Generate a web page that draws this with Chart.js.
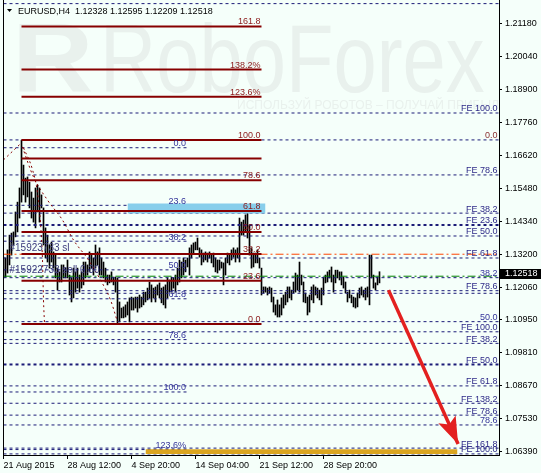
<!DOCTYPE html>
<html>
<head>
<meta charset="utf-8">
<script src="https://cdn.jsdelivr.net/npm/chart.js@4.4.0/dist/chart.umd.min.js"></script>
<style>
  html, body { margin: 0; padding: 0; background: #f5fffa; }
  #wrap { width: 541px; height: 473px; }
</style>
</head>
<body>
<div id="wrap"><canvas id="chart" width="541" height="473"></canvas></div>
<script>
// EURUSD H4 bars (one value per bar, oldest first)
const highs = [
  1.1310, 1.1307, 1.1335, 1.1386, 1.1393, 1.1397, 1.1466, 1.1500, 1.1549, 1.1714,
  1.1628, 1.1583, 1.1587, 1.1569, 1.1535, 1.1514, 1.1549, 1.1559, 1.1549, 1.1525,
  1.1480, 1.1411, 1.1386, 1.1352, 1.1362, 1.1328, 1.1317, 1.1272, 1.1259, 1.1283,
  1.1283, 1.1272, 1.1300, 1.1248, 1.1238, 1.1272, 1.1259, 1.1272, 1.1248, 1.1259,
  1.1293, 1.1293, 1.1283, 1.1328, 1.1317, 1.1307, 1.1352, 1.1328, 1.1342, 1.1307,
  1.1293, 1.1272, 1.1248, 1.1248, 1.1259, 1.1241, 1.1241, 1.1238, 1.1155, 1.1134,
  1.1138, 1.1145, 1.1155, 1.1169, 1.1172, 1.1169, 1.1172, 1.1172, 1.1179, 1.1172,
  1.1189, 1.1189, 1.1203, 1.1224, 1.1214, 1.1203, 1.1207, 1.1214, 1.1221, 1.1203,
  1.1207, 1.1214, 1.1238, 1.1231, 1.1241, 1.1238, 1.1248, 1.1272, 1.1300, 1.1293,
  1.1307, 1.1300, 1.1307, 1.1342, 1.1352, 1.1359, 1.1362, 1.1376, 1.1342, 1.1335,
  1.1324, 1.1328, 1.1324, 1.1328, 1.1317, 1.1324, 1.1307, 1.1300, 1.1300, 1.1293,
  1.1290, 1.1307, 1.1324, 1.1317, 1.1335, 1.1342, 1.1335, 1.1342, 1.1445, 1.1431,
  1.1438, 1.1456, 1.1462, 1.1421, 1.1342, 1.1324, 1.1324, 1.1335, 1.1307, 1.1272,
  1.1207, 1.1207, 1.1203, 1.1207, 1.1203, 1.1172, 1.1145, 1.1162, 1.1145, 1.1169,
  1.1179, 1.1189, 1.1207, 1.1207, 1.1196, 1.1224, 1.1255, 1.1248, 1.1293, 1.1248,
  1.1224, 1.1186, 1.1172, 1.1179, 1.1207, 1.1214, 1.1207, 1.1203, 1.1196, 1.1203,
  1.1241, 1.1248, 1.1259, 1.1265, 1.1276, 1.1248, 1.1265, 1.1265, 1.1259, 1.1259,
  1.1241, 1.1224, 1.1189, 1.1196, 1.1179, 1.1172, 1.1169, 1.1186, 1.1203, 1.1207,
  1.1196, 1.1203, 1.1207, 1.1317, 1.1317, 1.1248, 1.1221, 1.1241, 1.12595
];
const lows = [
  1.1238, 1.1241, 1.1255, 1.1283, 1.1317, 1.1352, 1.1380, 1.1397, 1.1445, 1.1500,
  1.1525, 1.1500, 1.1518, 1.1480, 1.1445, 1.1431, 1.1411, 1.1466, 1.1431, 1.1480,
  1.1352, 1.1307, 1.1293, 1.1272, 1.1293, 1.1272, 1.1238, 1.1196, 1.1224, 1.1224,
  1.1238, 1.1238, 1.1238, 1.1179, 1.1155, 1.1169, 1.1189, 1.1203, 1.1189, 1.1203,
  1.1214, 1.1238, 1.1248, 1.1259, 1.1272, 1.1248, 1.1272, 1.1283, 1.1248, 1.1248,
  1.1238, 1.1224, 1.1214, 1.1221, 1.1224, 1.1214, 1.1189, 1.1082, 1.1086, 1.1100,
  1.1100, 1.1103, 1.1110, 1.1086, 1.1127, 1.1127, 1.1134, 1.1120, 1.1134, 1.1138,
  1.1145, 1.1155, 1.1162, 1.1169, 1.1155, 1.1169, 1.1155, 1.1179, 1.1169, 1.1152,
  1.1145, 1.1134, 1.1169, 1.1189, 1.1189, 1.1203, 1.1189, 1.1214, 1.1224, 1.1238,
  1.1248, 1.1259, 1.1276, 1.1248, 1.1307, 1.1324, 1.1335, 1.1335, 1.1310, 1.1283,
  1.1293, 1.1300, 1.1293, 1.1307, 1.1290, 1.1276, 1.1259, 1.1255, 1.1265, 1.1272,
  1.1214, 1.1248, 1.1290, 1.1283, 1.1300, 1.1310, 1.1293, 1.1307, 1.1293, 1.1386,
  1.1386, 1.1397, 1.1376, 1.1317, 1.1272, 1.1276, 1.1290, 1.1290, 1.1272, 1.1179,
  1.1186, 1.1189, 1.1179, 1.1186, 1.1155, 1.1120, 1.1110, 1.1103, 1.1103, 1.1110,
  1.1134, 1.1145, 1.1155, 1.1169, 1.1162, 1.1186, 1.1189, 1.1196, 1.1189, 1.1214,
  1.1155, 1.1152, 1.1110, 1.1120, 1.1162, 1.1152, 1.1179, 1.1169, 1.1162, 1.1145,
  1.1179, 1.1221, 1.1224, 1.1238, 1.1224, 1.1189, 1.1221, 1.1238, 1.1231, 1.1214,
  1.1203, 1.1186, 1.1155, 1.1169, 1.1152, 1.1138, 1.1134, 1.1138, 1.1169, 1.1179,
  1.1172, 1.1162, 1.1172, 1.1145, 1.1238, 1.1203, 1.1196, 1.1214, 1.12209
];

// header: symbol and last bar open/high/low/close
const symbolName = 'EURUSD,H4';
const lastBarOHLC = [1.12328, 1.12595, 1.12209, 1.12518];

// axes
const xTickBars = [0, 32, 64, 96, 128, 160];
const xTickLabels = ['21 Aug 2015', '28 Aug 12:00', '4 Sep 20:00', '14 Sep 04:00', '21 Sep 12:00', '28 Sep 20:00'];
const yTickValues = [1.21180, 1.20040, 1.18900, 1.17760, 1.16620, 1.15480, 1.14340,
                     1.13200, 1.12060, 1.10950, 1.09810, 1.08670, 1.07530, 1.06390];

// Fibonacci retracement (solid dark red)
const fibALabels = ['161.8', '138.2%', '123.6%', '100.0', '', '78.6', '61.8', '50.0', '38.2', '23.6', '0.0'];
const fibAPrices = [1.2107, 1.1958, 1.1864, 1.1715, 1.1651, 1.1576, 1.1469, 1.1397, 1.1321, 1.1228, 1.1079];
const fibABars = [9, 129];

// second Fibonacci grid (short blue dashed)
const fibBLabels = ['0.0', '23.6', '38.2', '50.0', '61.8', '78.6', '100.0', '123.6%'];
const fibBPrices = [1.1688, 1.1489, 1.1365, 1.1266, 1.1166, 1.1025, 1.0844, 1.0645];
const fibBBars = [0, 92];

// Fibonacci expansions (full width blue dashed)
const feLabels = ['', 'FE 100.0', '0.0', 'FE 78.6', 'FE 38.2', 'FE 23.6', 'FE 50.0', 'FE 61.8', '38.2', 'FE 78.6', '',
                  '50.0', 'FE 100.0', 'FE 38.2', 'FE 50.0', 'FE 61.8', 'FE 138.2', 'FE 78.6', '78.6', 'FE 161.8', 'FE 100.0'];
const fePrices = [1.2186, 1.1808, 1.1715, 1.1594, 1.1462, 1.1421, 1.1383, 1.1307, 1.1239, 1.1194, 1.1185,
                  1.1087, 1.1052, 1.1012, 1.0939, 1.0865, 1.0805, 1.0764, 1.0730, 1.0650, 1.0630];
const feBars = [0, 247.75];

// open order and its stop loss
const orderLabels = ['#15923733 sl', '#15922733 sell 0.30'];
const orderPrices = [1.1320, 1.1244];

// zones
const blueZoneBars = [62, 131];
const blueZonePrices = [1.1495, 1.1461];
const goldZoneBars = [71, 227];
const goldZonePrices = [1.0646, 1.0630];

// dotted fibo arcs and trend line
const arc1Bars = [9.4, 15, 22, 29.5, 35, 42.5, 48.5, 53.5, 57];
const arc1Prices = [1.1691, 1.1587, 1.1507, 1.1438, 1.1369, 1.1300, 1.1231, 1.1162, 1.1086];
const arc2Bars = [10, 14.5, 17, 18.5, 19.5, 20, 20.5];
const arc2Prices = [1.1688, 1.1612, 1.1532, 1.1428, 1.1300, 1.1162, 1.1079];
const trendBars = [0, 9];
const trendPrices = [1.1646, 1.1705];

// forecast arrow
const arrowBars = [192.5, 227.3];
const arrowPrices = [1.1196, 1.0664];

const FONT = "'Liberation Sans', Arial, sans-serif";
const NAVY = '#1c1c78';
const FIB_RED = '#870000';
const thickFE = [5, 14];

function pts(xs, ys) {
  return xs.map((x, k) => ({ x: x, y: ys[k] }));
}

function hLine(bars, price, color, width, dash, order) {
  return {
    type: 'line', data: pts(bars, [price, price]), borderColor: color, borderWidth: width,
    borderDash: dash, pointRadius: 0, fill: false, order: order
  };
}

function zone(bars, prices, color, order) {
  return {
    type: 'line', data: pts(bars, [prices[0], prices[0]]), borderWidth: 0, pointRadius: 0,
    backgroundColor: color, fill: { value: prices[1] }, order: order
  };
}

const datasets = [];

// 0: arrow (top)
datasets.push({
  type: 'line', data: pts(arrowBars, arrowPrices), borderColor: '#e3201f', borderWidth: 3.5,
  pointRadius: 0, fill: false, order: 0
});

// price bars (bottom)
datasets.push({
  type: 'bar', data: highs.map((h, i) => ({ x: i, y: [lows[i], h] })),
  backgroundColor: '#000000', barThickness: 1, borderWidth: 0, order: 10
});

fePrices.forEach((p, k) => datasets.push(hLine(feBars, p, NAVY, thickFE.includes(k) ? 2 : 1, [3, 3], 6)));
fibBPrices.forEach(p => datasets.push(hLine(fibBBars, p, NAVY, 1, [3, 3], 6)));
datasets.push(zone(goldZoneBars, goldZonePrices, '#daa520', 4.5));
datasets.push(zone(blueZoneBars, blueZonePrices, '#87ceeb', 3.6));
datasets.push(hLine(feBars, orderPrices[0], '#ff4500', 1, [8, 3, 2, 3], 3.5));
datasets.push(hLine(feBars, orderPrices[1], '#008000', 1, [8, 3, 2, 3], 3.5));
[[arc1Bars, arc1Prices], [arc2Bars, arc2Prices], [trendBars, trendPrices]].forEach(a => {
  datasets.push({
    type: 'line', data: pts(a[0], a[1]), borderColor: FIB_RED, borderWidth: 1, borderDash: [2, 3],
    pointRadius: 0, fill: false, cubicInterpolationMode: 'monotone', order: 4
  });
});
fibAPrices.forEach(p => datasets.push(hLine(fibABars, p, FIB_RED, 2, [], 3)));

// texts, watermark, arrow head and price box
const overlay = {
  id: 'overlay',
  beforeDatasetsDraw(chart) {
    const ctx = chart.ctx, a = chart.chartArea;
    ctx.save();
    ctx.beginPath();
    ctx.rect(a.left, a.top, a.right - a.left, a.bottom - a.top);
    ctx.clip();
    ctx.fillStyle = '#e9f1ed';
    ctx.save();
    ctx.translate(12, 92);
    ctx.scale(1.15, 1);
    ctx.font = 'bold 98px ' + FONT;
    ctx.fillText('R', 0, 0);
    ctx.restore();
    ctx.save();
    ctx.translate(100, 92);
    ctx.scale(0.81, 1);
    ctx.font = '96px ' + FONT;
    ctx.fillText('RoboForex', 0, 0);
    ctx.restore();
    ctx.font = '12px ' + FONT;
    ctx.fillText('ИСПОЛЬЗУЙ РОБОТОВ – ПОЛУЧАЙ ПРИБЫЛЬ', 237, 109);
    ctx.restore();
  },
  afterDatasetsDraw(chart) {
    const ctx = chart.ctx, xs = chart.scales.x, ys = chart.scales.y;
    ctx.save();
    ctx.font = '9px ' + FONT;
    ctx.textBaseline = 'alphabetic';
    ctx.textAlign = 'right';

    // level labels
    const fa = xs.getPixelForValue(fibABars[1]) - 1;
    ctx.fillStyle = '#8b1a1a';
    fibAPrices.forEach((p, k) => ctx.fillText(fibALabels[k], fa, ys.getPixelForValue(p) - 2));
    const fb = xs.getPixelForValue(fibBBars[1]) - 1.5;
    ctx.fillStyle = '#34349a';
    fibBPrices.forEach((p, k) => ctx.fillText(fibBLabels[k], fb, ys.getPixelForValue(p) - 1.5));
    const fe = xs.getPixelForValue(feBars[1]) - 1.5;
    fePrices.forEach((p, k) => {
      ctx.fillStyle = feLabels[k] === '0.0' ? '#8b3030' : (feLabels[k].startsWith('FE') ? '#2e2a88' : '#34349a');
      ctx.fillText(feLabels[k], fe, ys.getPixelForValue(p) - 1.5);
    });

    // order labels
    ctx.textAlign = 'left';
    ctx.fillStyle = '#3b3b7b';
    ctx.font = '10px ' + FONT;
    orderPrices.forEach((p, k) => ctx.fillText(orderLabels[k], xs.getPixelForValue(3), ys.getPixelForValue(p) - 3));

    // arrow head
    const ap = chart.getDatasetMeta(0).data;
    const x0 = ap[0].x, y0 = ap[0].y, x1 = ap[1].x, y1 = ap[1].y;
    const len = Math.hypot(x1 - x0, y1 - y0), ux = (x1 - x0) / len, uy = (y1 - y0) / len;
    const hl = 27, hw = 9.5;
    ctx.fillStyle = '#e3201f';
    ctx.beginPath();
    ctx.moveTo(x1, y1);
    ctx.lineTo(x1 - ux * hl - uy * hw, y1 - uy * hl + ux * hw);
    ctx.lineTo(x1 - ux * hl * 0.8, y1 - uy * hl * 0.8);
    ctx.lineTo(x1 - ux * hl + uy * hw, y1 - uy * hl - ux * hw);
    ctx.closePath();
    ctx.fill();
    ctx.restore();
  },
  afterDraw(chart) {
    const ctx = chart.ctx, a = chart.chartArea, ys = chart.scales.y;
    ctx.save();
    // left border
    ctx.strokeStyle = '#000';
    ctx.lineWidth = 1;
    ctx.beginPath();
    ctx.moveTo(a.left + 0.5, 0);
    ctx.lineTo(a.left + 0.5, a.bottom);
    ctx.moveTo(a.right + 0.5, 0);
    ctx.lineTo(a.right + 0.5, a.top);
    ctx.stroke();

    // header
    ctx.fillStyle = '#000';
    ctx.beginPath();
    ctx.moveTo(7, 9); ctx.lineTo(12, 9); ctx.lineTo(9.5, 12);
    ctx.closePath();
    ctx.fill();
    ctx.font = '9px ' + FONT;
    ctx.textBaseline = 'alphabetic';
    ctx.fillText(symbolName + '  ' + lastBarOHLC.map(v => v.toFixed(5)).join(' '), 18, 14);

    // current price box
    const yp = ys.getPixelForValue(lastBarOHLC[3]);
    ctx.fillRect(a.right + 1, Math.round(yp) - 5, 541 - a.right - 1, 10);
    ctx.fillStyle = '#fff';
    ctx.textBaseline = 'middle';
    ctx.fillText(lastBarOHLC[3].toFixed(5), a.right + 6, Math.round(yp));
    ctx.restore();
  }
};

new Chart(document.getElementById('chart'), {
  type: 'bar',
  data: { datasets: datasets },
  options: {
    responsive: false,
    animation: false,
    layout: { padding: { left: 3, top: 3, right: 0, bottom: 0 } },
    plugins: { legend: { display: false }, tooltip: { enabled: false } },
    scales: {
      x: {
        type: 'linear', min: -0.25, max: 247.75, offset: false,
        grid: { drawOnChartArea: false, offset: false, tickLength: 4, color: '#000' },
        border: { display: true, color: '#000' },
        ticks: {
          autoSkip: false, maxRotation: 0, align: 'start', padding: 1, color: '#000',
          font: { family: FONT, size: 9 },
          callback: v => xTickLabels[xTickBars.indexOf(v)]
        },
        afterBuildTicks: s => { s.ticks = xTickBars.map(v => ({ value: v })); },
        afterFit: s => { s.height = 18; s.paddingLeft = 0; s.paddingRight = 0; }
      },
      y: {
        type: 'linear', position: 'right', min: 1.06262, max: 1.21881,
        grid: { drawOnChartArea: false, tickLength: 3, color: '#000' },
        border: { display: true, color: '#000' },
        ticks: {
          padding: 3, color: '#000', font: { family: FONT, size: 9 },
          callback: v => v.toFixed(5)
        },
        afterBuildTicks: s => { s.ticks = yTickValues.map(v => ({ value: v })); },
        afterFit: s => { s.width = 42; s.paddingTop = 0; s.paddingBottom = 0; }
      }
    }
  },
  plugins: [overlay]
});
</script>
</body>
</html>
